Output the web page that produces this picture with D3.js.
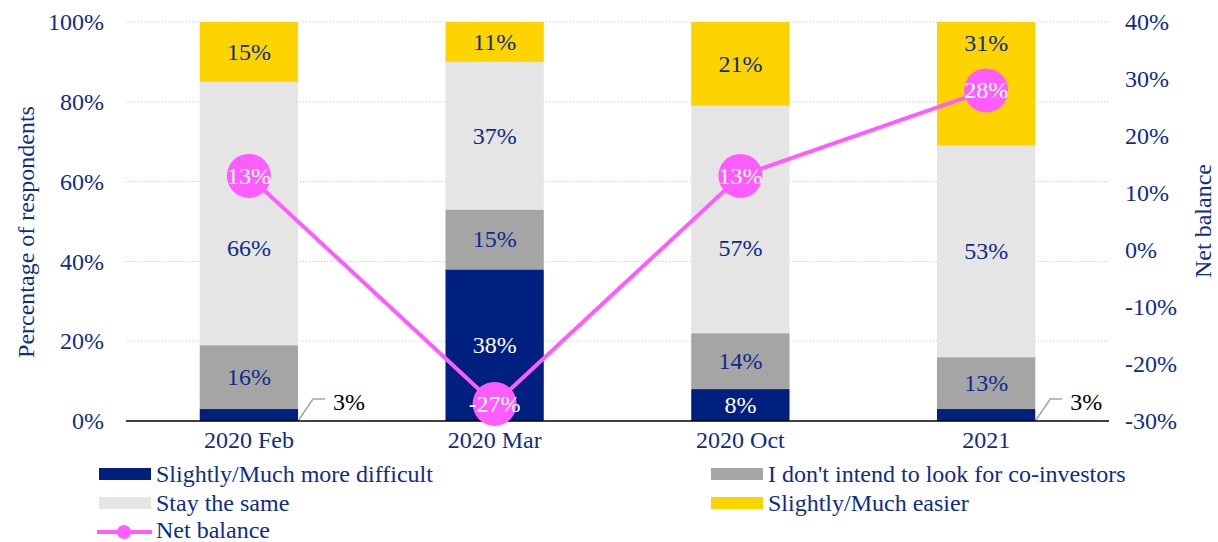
<!DOCTYPE html>
<html>
<head>
<meta charset="utf-8">
<script src="https://d3js.org/d3.v7.min.js"></script>
<style>
  body { margin: 0; background: #fff; }
  svg { font-family: "Liberation Serif", "Times New Roman", serif; }
</style>
</head>
<body>
<div id="chart"></div>
<script>
const categories = ["2020 Feb", "2020 Mar", "2020 Oct", "2021"];
const moreDifficult = [3, 38, 8, 3];
const noIntend = [16, 15, 14, 13];
const staySame = [66, 37, 57, 53];
const easier = [15, 11, 21, 31];
const netBalance = [13, -27, 13, 28];
const leftTicks = [0, 20, 40, 60, 80, 100];
const rightTicks = [-30, -20, -10, 0, 10, 20, 30, 40];

const navy = "#002080";
const textColor = "#0d2c8c";
const pink = "#ff5cff";
const fs = "24px";

const seriesInfo = [
  { key: "difficult", name: "Slightly/Much more difficult", values: moreDifficult, color: navy, text: "#fff" },
  { key: "nointend", name: "I don't intend to look for co-investors", values: noIntend, color: "#a5a5a5", text: textColor },
  { key: "same", name: "Stay the same", values: staySame, color: "#e5e5e5", text: textColor },
  { key: "easier", name: "Slightly/Much easier", values: easier, color: "#fdd300", text: textColor }
];

const W = 1218, H = 542;
const margin = { top: 22, right: 109, bottom: 121, left: 126 };
const width = W - margin.left - margin.right;
const height = H - margin.top - margin.bottom;

var svg = d3.select("#chart")
    .append("svg")
    .attr("width", W)
    .attr("height", H);

svg.append("defs").append("clipPath")
    .attr("id", "plotclip")
    .append("rect")
    .attr("x", 0).attr("y", 0)
    .attr("width", width).attr("height", height);

var g = svg.append("g")
    .attr("transform", `translate(${margin.left}, ${margin.top})`);

var x = d3.scaleBand()
    .domain(categories)
    .range([0, width])
    .paddingInner(0.6)
    .paddingOuter(0.3);

var y = d3.scaleLinear().domain([0, 100]).range([height, 0]);
var y2 = d3.scaleLinear().domain([-30, 40]).range([height, 0]);

var cx = i => x(categories[i]) + x.bandwidth() / 2;

// gridlines
g.selectAll(".grid")
    .data(leftTicks.filter(d => d > 0))
    .enter().append("line")
    .attr("x1", 0).attr("x2", width)
    .attr("y1", d => y(d)).attr("y2", d => y(d))
    .style("stroke", "#c8c8c8")
    .style("stroke-width", 1)
    .style("stroke-dasharray", "1,2");

// stacked bars
var rows = categories.map((c, i) => {
    var r = { cat: c, idx: i };
    seriesInfo.forEach(s => r[s.key] = s.values[i]);
    return r;
});
var stack = d3.stack().keys(seriesInfo.map(s => s.key))(rows);

var barLayer = g.append("g").attr("clip-path", "url(#plotclip)");
var labelLayer = g.append("g");

stack.forEach((layer, li) => {
    var s = seriesInfo[li];
    barLayer.append("g").selectAll("rect")
        .data(layer)
        .enter().append("rect")
        .attr("x", d => x(d.data.cat))
        .attr("width", x.bandwidth())
        .attr("y", d => y(Math.min(d[1], 100)))
        .attr("height", d => y(d[0]) - y(Math.min(d[1], 100)))
        .style("fill", s.color);

    labelLayer.append("g").selectAll("text")
        .data(layer.filter(d => d[1] - d[0] > 5))
        .enter().append("text")
        .attr("x", d => x(d.data.cat) + x.bandwidth() / 2)
        .attr("y", d => {
            var ly = y((d[0] + Math.min(d[1], 100)) / 2);
            // move label off the net balance marker when they collide
            var my = y2(netBalance[d.data.idx]);
            if (Math.abs(ly - my) < 45) {
                if (s.key === "easier") ly = my - 47;
                else if (s.key === "same") ly = my + 72;
            }
            return ly + 8;
        })
        .attr("text-anchor", "middle")
        .style("font-size", fs)
        .style("fill", s.text)
        .text(d => Math.round(d[1] - d[0]) + "%");

    // small segments get a leader line
    layer.filter(d => d[1] - d[0] <= 5).forEach(d => {
        var x0 = x(d.data.cat) + x.bandwidth();
        var y0 = y(d[0]);
        labelLayer.append("polyline")
            .attr("points", `${x0},${y0} ${x0 + 15},${y0 - 22} ${x0 + 27},${y0 - 22}`)
            .style("fill", "none")
            .style("stroke", "#a5a5a5")
            .style("stroke-width", 1.5);
        labelLayer.append("text")
            .attr("x", x0 + 35)
            .attr("y", y0 - 11)
            .style("font-size", fs)
            .style("fill", "#000")
            .text(Math.round(d[1] - d[0]) + "%");
    });
});

// baseline
g.append("line")
    .attr("x1", 0).attr("x2", width)
    .attr("y1", height).attr("y2", height)
    .style("stroke", "#000")
    .style("stroke-width", 1.5);

// axes
var leftAxis = g.append("g")
    .call(d3.axisLeft(y).tickValues(leftTicks).tickFormat(d => d + "%").tickSize(0).tickPadding(22));
var rightAxis = g.append("g")
    .attr("transform", `translate(${width}, 0)`)
    .call(d3.axisRight(y2).tickValues(rightTicks).tickFormat(d => d + "%").tickSize(0).tickPadding(16));
var bottomAxis = g.append("g")
    .attr("transform", `translate(0, ${height})`)
    .call(d3.axisBottom(x).tickSize(0).tickPadding(10));

[leftAxis, rightAxis, bottomAxis].forEach(a => {
    a.select(".domain").remove();
    a.selectAll("text")
        .style("font-family", "'Liberation Serif', serif")
        .style("font-size", fs)
        .style("fill", textColor);
});

// net balance line
var line = d3.line()
    .x((d, i) => cx(i))
    .y(d => y2(d));

g.append("path")
    .datum(netBalance)
    .attr("d", line)
    .style("fill", "none")
    .style("stroke", pink)
    .style("stroke-width", 4);

g.selectAll(".marker")
    .data(netBalance)
    .enter().append("circle")
    .attr("cx", (d, i) => cx(i))
    .attr("cy", d => y2(d))
    .attr("r", 22)
    .style("fill", pink);

g.selectAll(".mlabel")
    .data(netBalance)
    .enter().append("text")
    .attr("x", (d, i) => cx(i))
    .attr("y", d => y2(d) + 8)
    .attr("text-anchor", "middle")
    .style("font-size", fs)
    .style("fill", "#fff")
    .text(d => d + "%");

// axis titles
svg.append("text")
    .attr("transform", "translate(34, 232) rotate(-90)")
    .attr("text-anchor", "middle")
    .style("font-size", fs)
    .style("fill", textColor)
    .text("Percentage of respondents");

svg.append("text")
    .attr("transform", "translate(1211, 221) rotate(-90)")
    .attr("text-anchor", "middle")
    .style("font-size", fs)
    .style("fill", textColor)
    .text("Net balance");

// legend
var legendItems = [
    { s: seriesInfo[0], x: 99, y: 474 },
    { s: seriesInfo[1], x: 711, y: 474 },
    { s: seriesInfo[2], x: 99, y: 503 },
    { s: seriesInfo[3], x: 711, y: 503 }
];
legendItems.forEach(it => {
    svg.append("rect")
        .attr("x", it.x).attr("y", it.y - 6)
        .attr("width", 52).attr("height", 12)
        .style("fill", it.s.color);
    svg.append("text")
        .attr("x", it.x + 57).attr("y", it.y + 8)
        .style("font-size", fs)
        .style("fill", textColor)
        .text(it.s.name);
});
svg.append("line")
    .attr("x1", 97).attr("x2", 152)
    .attr("y1", 532).attr("y2", 532)
    .style("stroke", pink).style("stroke-width", 4);
svg.append("circle")
    .attr("cx", 124).attr("cy", 532).attr("r", 7)
    .style("fill", pink);
svg.append("text")
    .attr("x", 156).attr("y", 538)
    .style("font-size", fs)
    .style("fill", textColor)
    .text("Net balance");
</script>
</body>
</html>
